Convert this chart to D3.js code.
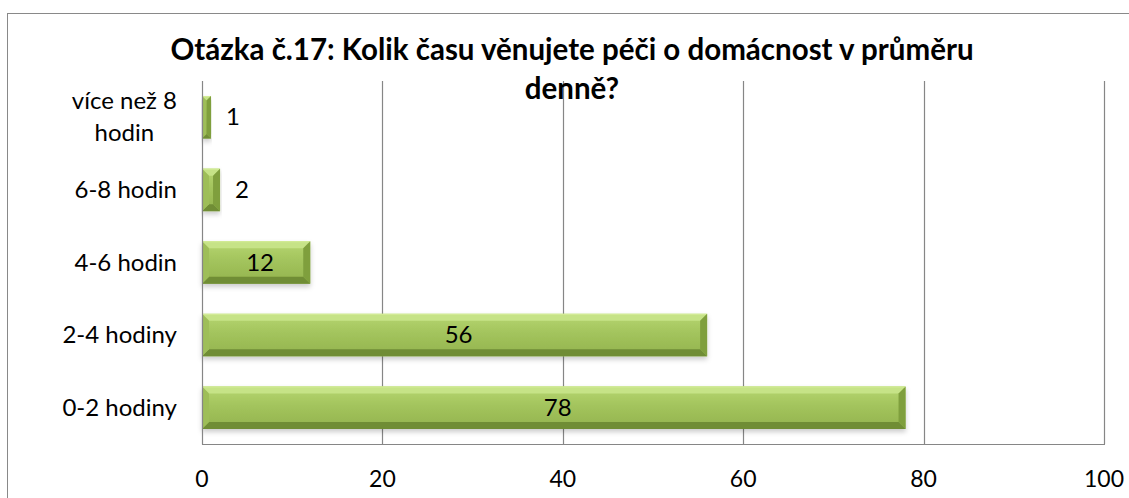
<!DOCTYPE html>
<html>
<head>
<meta charset="utf-8">
<script src="https://cdn.jsdelivr.net/npm/d3@7"></script>
<style>
  html, body { margin: 0; padding: 0; background: #fff; }
  svg { display: block; font-family: Lato, "Open Sans", sans-serif; }
</style>
</head>
<body>
<svg id="chart" width="1129" height="498"></svg>
<script>
const titleLines = ["Otázka č.17: Kolik času věnujete péči o domácnost v průměru", "denně?"];
const categories = ["0-2 hodiny", "2-4 hodiny", "4-6 hodin", "6-8 hodin", "více než 8 hodin"];
const categoryLines = [["0-2 hodiny"], ["2-4 hodiny"], ["4-6 hodin"], ["6-8 hodin"], ["více než 8", "hodin"]];
const values = [78, 56, 12, 2, 1];
const xTicks = [0, 20, 40, 60, 80, 100];

const svg = d3.select("#chart");
const plot = { left: 202, right: 1104, top: 81, bottom: 444 };

// Outer chart border
svg.append("rect").attr("x", 7.5).attr("y", 13.5).attr("width", 1300).attr("height", 700)
  .attr("fill", "#fff").attr("stroke", "#898989").attr("stroke-width", 1);

const x = d3.scaleLinear().domain([0, 100]).range([plot.left, plot.right]);
const y = d3.scaleBand().domain(categories.slice().reverse()).range([plot.top, plot.bottom])
  .paddingInner(0.415).paddingOuter(0.2075);

// defs
const defs = svg.append("defs");
const g1 = defs.append("linearGradient").attr("id", "barGrad").attr("x1", 0).attr("y1", 0).attr("x2", 0).attr("y2", 1);
g1.append("stop").attr("offset", "0%").attr("stop-color", "#b6d670");
g1.append("stop").attr("offset", "45%").attr("stop-color", "#a3c45d");
g1.append("stop").attr("offset", "100%").attr("stop-color", "#93b34d");
const sh = defs.append("filter").attr("id", "shadow").attr("x", "-5%").attr("y", "-20%").attr("width", "115%").attr("height", "160%");
sh.append("feDropShadow").attr("dx", 0).attr("dy", 3).attr("stdDeviation", 2.5).attr("flood-color", "#000").attr("flood-opacity", 0.2);

// gridlines
const grid = svg.append("g");
grid.selectAll("line").data(xTicks.filter(d => d > 0)).join("line")
  .attr("x1", d => Math.round(x(d)) + 0.5).attr("x2", d => Math.round(x(d)) + 0.5)
  .attr("y1", plot.top).attr("y2", plot.bottom)
  .attr("stroke", "#868686").attr("stroke-width", 1.2);

// bars
const bars = svg.append("g");
categories.forEach((c, i) => {
  const v = values[i];
  const bx = x(0), by = y(c), bw = x(v) - x(0), bh = y.bandwidth();
  const b = Math.min(7, bw / 2);
  const g = bars.append("g").attr("filter", "url(#shadow)");
  g.append("rect").attr("x", bx).attr("y", by).attr("width", bw).attr("height", bh).attr("fill", "url(#barGrad)");
  const P = pts => pts.map(p => p.join(",")).join(" ");
  g.append("polygon").attr("points", P([[bx, by], [bx + bw, by], [bx + bw - b, by + b], [bx + b, by + b]])).attr("fill", "#c6e387");
  g.append("polygon").attr("points", P([[bx, by + bh], [bx + bw, by + bh], [bx + bw - b, by + bh - b], [bx + b, by + bh - b]])).attr("fill", "#6f8d36");
  g.append("polygon").attr("points", P([[bx, by], [bx + b, by + b], [bx + b, by + bh - b], [bx, by + bh]])).attr("fill", "#9ebe59");
  g.append("polygon").attr("points", P([[bx + bw, by], [bx + bw - b, by + b], [bx + bw - b, by + bh - b], [bx + bw, by + bh]])).attr("fill", "#7f9f3e");
  g.append("line").attr("x1", bx + 1).attr("x2", bx + bw - 1).attr("y1", by + 0.5).attr("y2", by + 0.5).attr("stroke", "#d4ec98").attr("stroke-width", 1);
});

// axes lines
svg.append("line").attr("x1", plot.left + 0.5).attr("x2", plot.left + 0.5).attr("y1", plot.top).attr("y2", plot.bottom + 0.5)
  .attr("stroke", "#868686").attr("stroke-width", 1.2);
svg.append("line").attr("x1", plot.left).attr("x2", Math.round(x(100)) + 1).attr("y1", plot.bottom + 0.5).attr("y2", plot.bottom + 0.5)
  .attr("stroke", "#868686").attr("stroke-width", 1.2);

// x tick labels
svg.append("g").selectAll("text").data(xTicks).join("text")
  .attr("x", d => x(d)).attr("y", 487).attr("text-anchor", "middle")
  .attr("font-size", 23).attr("fill", "#000").text(d => d);

// category labels
const catG = svg.append("g");
categories.forEach((c, i) => {
  const lines = categoryLines[i];
  const cy = y(c) + y.bandwidth() / 2;
  const t = catG.append("text").attr("font-size", 24).attr("fill", "#000");
  const base = cy + 8 - (lines.length - 1) * 16;
  const spans = lines.map((l, k) => t.append("tspan").attr("y", base + k * 32).text(l));
  const maxW = d3.max(spans.map(s => s.node().getComputedTextLength()));
  const cx = 177 - maxW / 2;
  spans.forEach(s => s.attr("x", cx).attr("text-anchor", "middle"));
});

// value labels
const valG = svg.append("g");
categories.forEach((c, i) => {
  const v = values[i];
  const cy = y(c) + y.bandwidth() / 2;
  const inside = v >= 10;
  valG.append("text").attr("font-size", 24).attr("fill", "#000")
    .attr("x", inside ? (x(0) + x(v)) / 2 + 4 : x(v) + 22)
    .attr("y", cy + 8).attr("text-anchor", "middle").text(v);
});

// title
const tt = svg.append("text").attr("font-size", 29.5).attr("font-weight", "bold").attr("fill", "#000").attr("text-anchor", "middle");
titleLines.forEach((l, k) => tt.append("tspan").attr("x", 572).attr("y", 60 + k * 39).text(l));
</script>
</body>
</html>
